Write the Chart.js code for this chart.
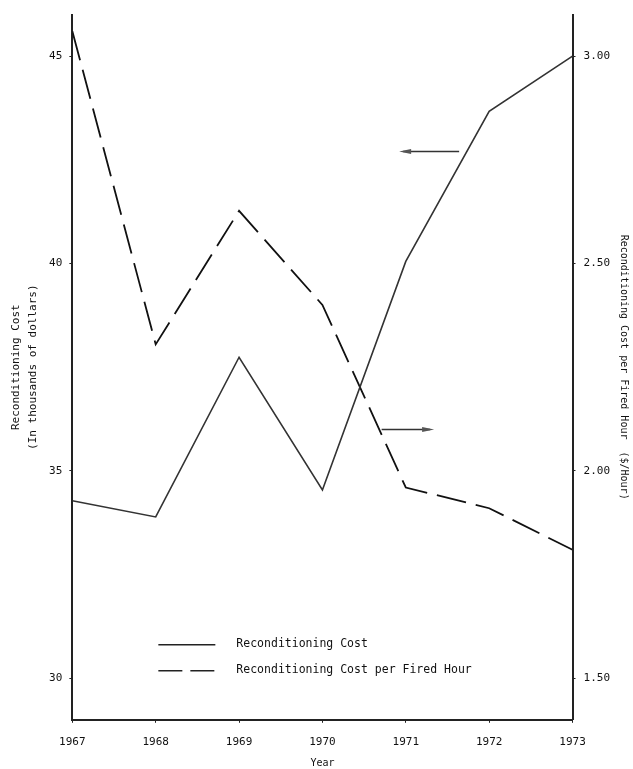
<!DOCTYPE html>
<html>
<head>
<meta charset="utf-8">
<script src="https://cdn.jsdelivr.net/npm/chart.js@4.4.1/dist/chart.umd.min.js"></script>
<style>
  html, body { margin: 0; padding: 0; background: #fff; }
  #wrap { width: 633px; height: 769px; }
</style>
</head>
<body>
<div id="wrap"><canvas id="costChart" width="633" height="769"></canvas></div>
<script>
// values
const years = [1967, 1968, 1969, 1970, 1971, 1972, 1973];
const reconditioningCost = [34.28, 33.89, 37.74, 34.54, 40.05, 43.67, 45.0];   // thousands of dollars
const costPerFiredHour = [3.06, 2.305, 2.627, 2.40, 1.96, 1.91, 1.81];        // $/hour
const costTicks = [30, 35, 40, 45];
const perHourTicks = [1.5, 2.0, 2.5, 3.0];
const seriesNames = ['Reconditioning Cost', 'Reconditioning Cost per Fired Hour'];

const monoFont = '"DejaVu Sans Mono", "Liberation Mono", monospace';
const ink = '#222';

function toPoints(values) {
  return years.map((yr, i) => ({ x: yr, y: values[i] }));
}

// arrows and the in-plot legend
const notesPlugin = {
  id: 'notes',
  afterDatasetsDraw(chart) {
    const { ctx, chartArea, scales } = chart;
    const x = scales.x, y = scales.y;

    function arrow(x0, x1, yv) {
      const px0 = x.getPixelForValue(x0);
      const px1 = x.getPixelForValue(x1);
      const py = y.getPixelForValue(yv);
      const dir = Math.sign(px1 - px0);
      ctx.save();
      ctx.strokeStyle = '#333';
      ctx.fillStyle = '#555';
      ctx.lineWidth = 1.5;
      ctx.beginPath();
      ctx.moveTo(px0, py);
      ctx.lineTo(px1 - dir * 4, py);
      ctx.stroke();
      ctx.beginPath();
      ctx.moveTo(px1, py);
      ctx.lineTo(px1 - dir * 12, py - 2.5);
      ctx.lineTo(px1 - dir * 12, py + 2.5);
      ctx.closePath();
      ctx.fill();
      ctx.restore();
    }
    // points toward the left axis (cost)
    arrow(1971.64, 1970.92, 42.7);
    // points toward the right axis (cost per hour)
    arrow(1970.71, 1971.34, 36.0);

    // legend inside the plot
    const lx = chartArea.left + 86;
    const tx = chartArea.left + 164;
    const rows = [chartArea.bottom - 75, chartArea.bottom - 49];
    ctx.save();
    ctx.strokeStyle = ink;
    ctx.lineWidth = 1.6;
    ctx.beginPath();
    ctx.moveTo(lx, rows[0]);
    ctx.lineTo(lx + 57, rows[0]);
    ctx.stroke();
    ctx.setLineDash([24, 8]);
    ctx.beginPath();
    ctx.moveTo(lx, rows[1]);
    ctx.lineTo(lx + 57, rows[1]);
    ctx.stroke();
    ctx.setLineDash([]);
    ctx.fillStyle = '#111';
    ctx.font = '11.5px ' + monoFont;
    ctx.textBaseline = 'middle';
    ctx.fillText(seriesNames[0], tx, rows[0] - 1);
    ctx.fillText(seriesNames[1], tx, rows[1] - 1);
    ctx.restore();
  }
};

const ctx = document.getElementById('costChart').getContext('2d');
new Chart(ctx, {
  type: 'line',
  data: {
    datasets: [
      {
        label: seriesNames[0],
        data: toPoints(reconditioningCost),
        yAxisID: 'y',
        borderColor: '#333',
        borderWidth: 1.6,
        pointRadius: 0,
        tension: 0,
        fill: false
      },
      {
        label: seriesNames[1],
        data: toPoints(costPerFiredHour),
        yAxisID: 'y1',
        borderColor: '#111',
        borderWidth: 1.8,
        borderDash: [30, 10],
        pointRadius: 0,
        tension: 0,
        fill: false
      }
    ]
  },
  options: {
    responsive: false,
    animation: false,
    layout: { padding: { top: 0, right: 3, left: 8, bottom: 0 } },
    plugins: {
      legend: { display: false },
      tooltip: { enabled: false }
    },
    scales: {
      x: {
        type: 'linear',
        min: years[0],
        max: years[years.length - 1],
        afterBuildTicks: axis => { axis.ticks = years.map(v => ({ value: v })); },
        ticks: {
          color: '#111',
          font: { family: monoFont, size: 11 },
          callback: v => String(v),
          padding: 13
        },
        grid: { drawOnChartArea: false, tickLength: 3, color: ink },
        border: { color: ink, width: 2 },
        title: {
          display: true,
          text: 'Year',
          color: '#111',
          font: { family: monoFont, size: 10 },
          padding: { top: -5, bottom: 0 }
        }
      },
      y: {
        position: 'left',
        min: 29,
        max: 46,
        afterBuildTicks: axis => { axis.ticks = costTicks.map(v => ({ value: v })); },
        ticks: {
          color: '#111',
          font: { family: monoFont, size: 11 },
          padding: 7
        },
        grid: { drawOnChartArea: false, tickLength: 3, color: ink },
        border: { color: ink, width: 2 },
        title: {
          display: true,
          text: ['Reconditioning Cost', '(In thousands of dollars)'],
          color: '#111',
          font: { family: monoFont, size: 11, lineHeight: 1.55 },
          padding: { top: 0, bottom: 0 }
        }
      },
      y1: {
        position: 'right',
        min: 1.4,
        max: 3.1,
        afterBuildTicks: axis => { axis.ticks = perHourTicks.map(v => ({ value: v })); },
        ticks: {
          color: '#111',
          font: { family: monoFont, size: 11 },
          padding: 8,
          callback: v => Number(v).toFixed(2)
        },
        grid: { drawOnChartArea: false, tickLength: 3, color: ink },
        border: { color: ink, width: 2 },
        title: {
          display: true,
          text: 'Reconditioning Cost per Fired Hour  ($/Hour)',
          color: '#111',
          font: { family: monoFont, size: 10 },
          padding: { top: 0, bottom: 0 }
        }
      }
    }
  },
  plugins: [notesPlugin]
});
</script>
</body>
</html>
